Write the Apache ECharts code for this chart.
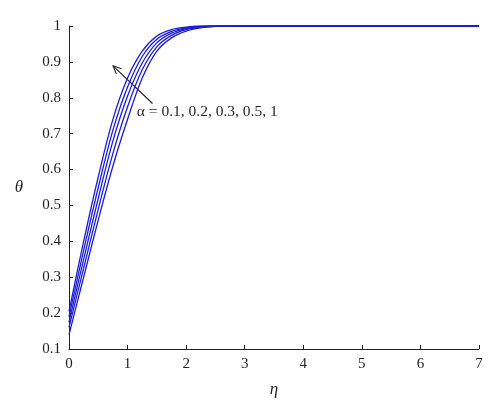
<!DOCTYPE html>
<html>
<head>
<meta charset="utf-8">
<script src="https://cdn.jsdelivr.net/npm/echarts@6/dist/echarts.min.js"></script>
<style>html,body{margin:0;padding:0;background:#fff}#c{width:500px;height:411px}</style>
</head>
<body>
<div id="c"></div>
<script>
const eta = [0, 0.25, 0.5, 0.75, 1.0, 1.25, 1.5, 1.75, 2.0, 2.25, 2.5, 2.75, 3, 4, 5, 6, 7];
const thetaAlpha1   = [0.205, 0.40, 0.58, 0.74, 0.855, 0.93, 0.972, 0.99, 0.997, 1.0, 1.0, 1.0, 1.0, 1, 1, 1, 1];
const thetaAlpha05  = [0.19, 0.375, 0.55, 0.71, 0.83, 0.915, 0.963, 0.985, 0.995, 0.999, 1.0, 1.0, 1.0, 1, 1, 1, 1];
const thetaAlpha03  = [0.175, 0.35, 0.52, 0.68, 0.805, 0.897, 0.953, 0.98, 0.993, 0.998, 1.0, 1.0, 1.0, 1, 1, 1, 1];
const thetaAlpha02  = [0.16, 0.325, 0.49, 0.645, 0.775, 0.878, 0.942, 0.974, 0.99, 0.997, 0.999, 1.0, 1.0, 1, 1, 1, 1];
const thetaAlpha01  = [0.14, 0.30, 0.46, 0.61, 0.74, 0.855, 0.93, 0.967, 0.986, 0.995, 0.999, 1.0, 1.0, 1, 1, 1, 1];
const seriesList = [thetaAlpha1, thetaAlpha05, thetaAlpha03, thetaAlpha02, thetaAlpha01];
const xTicks = [0, 1, 2, 3, 4, 5, 6, 7];
const yTicks = [0.1, 0.2, 0.3, 0.4, 0.5, 0.6, 0.7, 0.8, 0.9, 1];
const annotationText = 'α = 0.1, 0.2, 0.3, 0.5, 1';
const arrowFrom = [1.426, 0.784];
const arrowTo = [0.752, 0.889];
const labelAt = [1.157, 0.76];

const FONT = '"Liberation Serif", "DejaVu Serif", serif';
const chart = echarts.init(document.getElementById('c'), null, {renderer: 'canvas'});
const axisCommon = {
  axisLine: {show: true, lineStyle: {color: '#231f20', width: 1}},
  axisTick: {show: true, inside: true, length: 4, lineStyle: {color: '#231f20'}},
  splitLine: {show: false},
  axisLabel: {color: '#231f20', fontFamily: FONT, fontSize: 15},
  nameTextStyle: {color: '#231f20', fontFamily: FONT, fontSize: 17, fontStyle: 'italic'}
};
chart.setOption({
  animation: false,
  backgroundColor: '#fff',
  grid: {left: 69, right: 21, top: 26, bottom: 62, containLabel: false},
  xAxis: Object.assign({}, axisCommon, {
    type: 'value', min: 0, max: 7, interval: 1,
    name: 'η', nameLocation: 'middle', nameGap: 32,
    axisLabel: Object.assign({}, axisCommon.axisLabel, {margin: 8})
  }),
  yAxis: Object.assign({}, axisCommon, {
    type: 'value', min: 0.1, max: 1, interval: 0.1,
    name: 'θ', nameLocation: 'middle', nameGap: 46, nameRotate: 0,
    axisLabel: Object.assign({}, axisCommon.axisLabel, {margin: 8, formatter: v => String(+v.toFixed(1))})
  }),
  series: seriesList.map(vals => ({
    type: 'line',
    data: eta.map((x, i) => [x, vals[i]]),
    smooth: 0.35,
    showSymbol: false,
    lineStyle: {color: '#1c1cd8', width: 1.3},
    clip: true
  }))
});

function drawAnnot() {
  const p0 = chart.convertToPixel({gridIndex: 0}, arrowFrom);
  const p1 = chart.convertToPixel({gridIndex: 0}, arrowTo);
  const pl = chart.convertToPixel({gridIndex: 0}, labelAt);
  const ang = Math.atan2(p1[1] - p0[1], p1[0] - p0[0]);
  const hl = 9, ha = 0.42;
  const h1 = [p1[0] - hl * Math.cos(ang - ha), p1[1] - hl * Math.sin(ang - ha)];
  const h2 = [p1[0] - hl * Math.cos(ang + ha), p1[1] - hl * Math.sin(ang + ha)];
  chart.setOption({
    graphic: [
      {type: 'line', shape: {x1: p0[0], y1: p0[1], x2: p1[0], y2: p1[1]}, style: {stroke: '#231f20', lineWidth: 1.1}},
      {type: 'polyline', shape: {points: [h1, p1, h2]}, style: {stroke: '#231f20', lineWidth: 1.1, fill: null}},
      {type: 'text', x: pl[0], y: pl[1], style: {text: annotationText, font: '15.5px ' + FONT, fill: '#231f20', textAlign: 'left', textVerticalAlign: 'middle'}}
    ]
  });
}
drawAnnot();
</script>
</body>
</html>
